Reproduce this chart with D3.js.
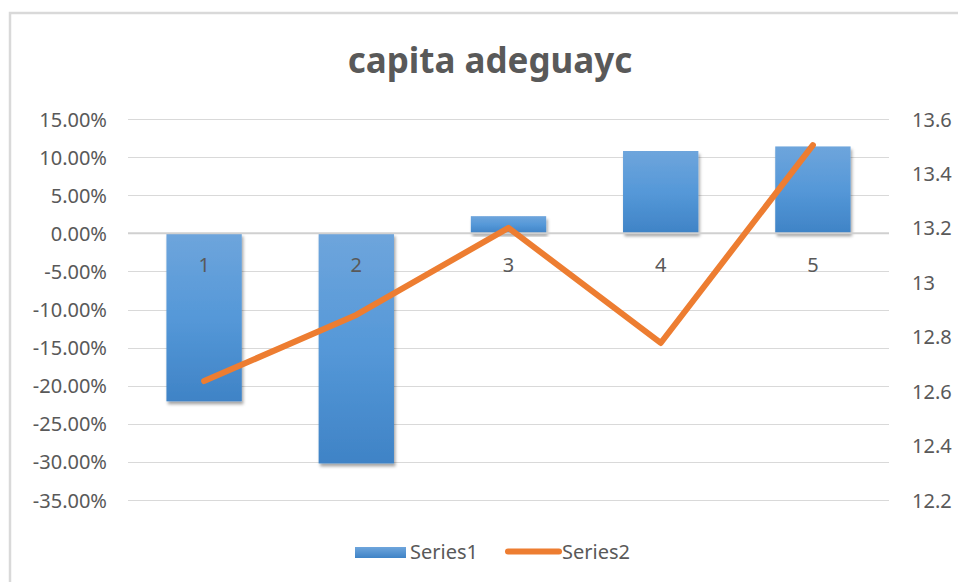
<!DOCTYPE html>
<html>
<head>
<meta charset="utf-8">
<script src="https://cdn.jsdelivr.net/npm/d3@7/dist/d3.min.js"></script>
<style>
  html, body { margin: 0; padding: 0; background: #fff; }
  svg { display: block; }
  text { font-family: "Noto Sans", "Open Sans", sans-serif; fill: #595959; }
</style>
</head>
<body>
<svg id="chart" width="958" height="582"></svg>
<script>
const title = "capita adeguayc";
const categories = ["1", "2", "3", "4", "5"];
const series1 = [-0.2205, -0.302, 0.0225, 0.108, 0.114];
const series2 = [12.637, 12.88, 13.2, 12.777, 13.504];
const leftTicks = [0.15, 0.10, 0.05, 0, -0.05, -0.10, -0.15, -0.20, -0.25, -0.30, -0.35];
const rightTicks = [13.6, 13.4, 13.2, 13.0, 12.8, 12.6, 12.4, 12.2];
const rightTickLabels = ["13.6", "13.4", "13.2", "13", "12.8", "12.6", "12.4", "12.2"];
const seriesNames = ["Series1", "Series2"];

const svg = d3.select("#chart");
const W = 958, H = 582;
const plot = { left: 128, right: 889, top: 119, bottom: 500 };

// outer chart border
svg.append("rect")
  .attr("x", 10).attr("y", 13)
  .attr("width", W + 20).attr("height", H + 20)
  .attr("fill", "#fff").attr("stroke", "#d9d9d9").attr("stroke-width", 2.5);

const defs = svg.append("defs");
const grad = defs.append("linearGradient").attr("id", "barGrad")
  .attr("x1", 0).attr("y1", 0).attr("x2", 0).attr("y2", 1);
grad.append("stop").attr("offset", "0%").attr("stop-color", "#6ea5dc");
grad.append("stop").attr("offset", "50%").attr("stop-color", "#5598d8");
grad.append("stop").attr("offset", "100%").attr("stop-color", "#3f83c6");
const gradL = defs.append("linearGradient").attr("id", "legGrad")
  .attr("x1", 0).attr("y1", 0).attr("x2", 0).attr("y2", 1);
gradL.append("stop").attr("offset", "0%").attr("stop-color", "#6ea5dc");
gradL.append("stop").attr("offset", "100%").attr("stop-color", "#3f83c6");
const shadow = defs.append("filter").attr("id", "shadow")
  .attr("x", "-20%").attr("y", "-20%").attr("width", "140%").attr("height", "140%");
shadow.append("feDropShadow").attr("dx", 1.5).attr("dy", 3).attr("stdDeviation", 1.8)
  .attr("flood-color", "#000").attr("flood-opacity", 0.35);

const x = d3.scaleBand().domain(categories).range([plot.left, plot.right]).paddingInner(0.505).paddingOuter(0.2525);
const yL = d3.scaleLinear().domain([-0.35, 0.15]).range([plot.bottom, plot.top]);
const yR = d3.scaleLinear().domain([12.2, 13.6]).range([plot.bottom, plot.top]);

// gridlines
svg.append("g").selectAll("line").data(leftTicks).join("line")
  .attr("x1", plot.left).attr("x2", plot.right)
  .attr("y1", d => Math.round(yL(d)) + 0.5).attr("y2", d => Math.round(yL(d)) + 0.5)
  .attr("stroke", "#d9d9d9").attr("stroke-width", 1);

// left axis
const pct = d3.format(".2%");
const leftAxis = d3.axisLeft(yL).tickValues(leftTicks)
  .tickFormat(d => pct(d).replace("\u2212", "-")).tickSize(0).tickPadding(0);
const gL = svg.append("g").attr("transform", `translate(107,0)`).call(leftAxis);
gL.select(".domain").remove();
gL.selectAll("text").attr("font-size", 20).attr("fill", "#595959")
  .style("font-family", '"Noto Sans", sans-serif').attr("dy", "0.35em").attr("x", 0);

// right axis
const rightAxis = d3.axisRight(yR).tickValues(rightTicks)
  .tickFormat((d, i) => rightTickLabels[i]).tickSize(0).tickPadding(0);
const gR = svg.append("g").attr("transform", `translate(912,0)`).call(rightAxis);
gR.select(".domain").remove();
gR.selectAll("text").attr("font-size", 20).attr("fill", "#595959")
  .style("font-family", '"Noto Sans", sans-serif').attr("dy", "0.35em").attr("x", 0);

// bars
svg.append("g").selectAll("rect").data(series1).join("rect")
  .attr("x", (d, i) => x(categories[i]))
  .attr("width", x.bandwidth())
  .attr("y", d => Math.min(yL(d), yL(0)))
  .attr("height", d => Math.abs(yL(d) - yL(0)))
  .attr("fill", "url(#barGrad)")
  .attr("filter", "url(#shadow)");

// zero axis line
svg.append("line")
  .attr("x1", plot.left).attr("x2", plot.right)
  .attr("y1", yL(0)).attr("y2", yL(0))
  .attr("stroke", "#d0d0d0").attr("stroke-width", 2);

// category labels (axis at zero)
const xAxis = d3.axisBottom(x).tickSize(0).tickPadding(0);
const gX = svg.append("g").attr("transform", `translate(0,${yL(0)})`).call(xAxis);
gX.select(".domain").remove();
gX.selectAll("text").attr("font-size", 20).attr("fill", "#595959")
  .style("font-family", '"Noto Sans", sans-serif').attr("y", 0).attr("dy", 39);

// line series
const line = d3.line()
  .x((d, i) => x(categories[i]) + x.bandwidth() / 2)
  .y(d => yR(d));
svg.append("path").datum(series2)
  .attr("d", line)
  .attr("fill", "none").attr("stroke", "#ed7d31").attr("stroke-width", 6)
  .attr("stroke-linecap", "round").attr("stroke-linejoin", "round");

// title
svg.append("text")
  .attr("x", 490).attr("y", 73)
  .attr("text-anchor", "middle")
  .attr("font-size", 35).attr("font-weight", "bold")
  .attr("fill", "#595959")
  .text(title);

// legend
const leg = svg.append("g");
leg.append("rect").attr("x", 355).attr("y", 547).attr("width", 51).attr("height", 11)
  .attr("fill", "url(#legGrad)");
leg.append("text").attr("x", 410).attr("y", 559).attr("font-size", 20).text(seriesNames[0]);
leg.append("line").attr("x1", 508).attr("x2", 559).attr("y1", 551.5).attr("y2", 551.5)
  .attr("stroke", "#ed7d31").attr("stroke-width", 6).attr("stroke-linecap", "round");
leg.append("text").attr("x", 562).attr("y", 559).attr("font-size", 20).text(seriesNames[1]);
</script>
</body>
</html>
